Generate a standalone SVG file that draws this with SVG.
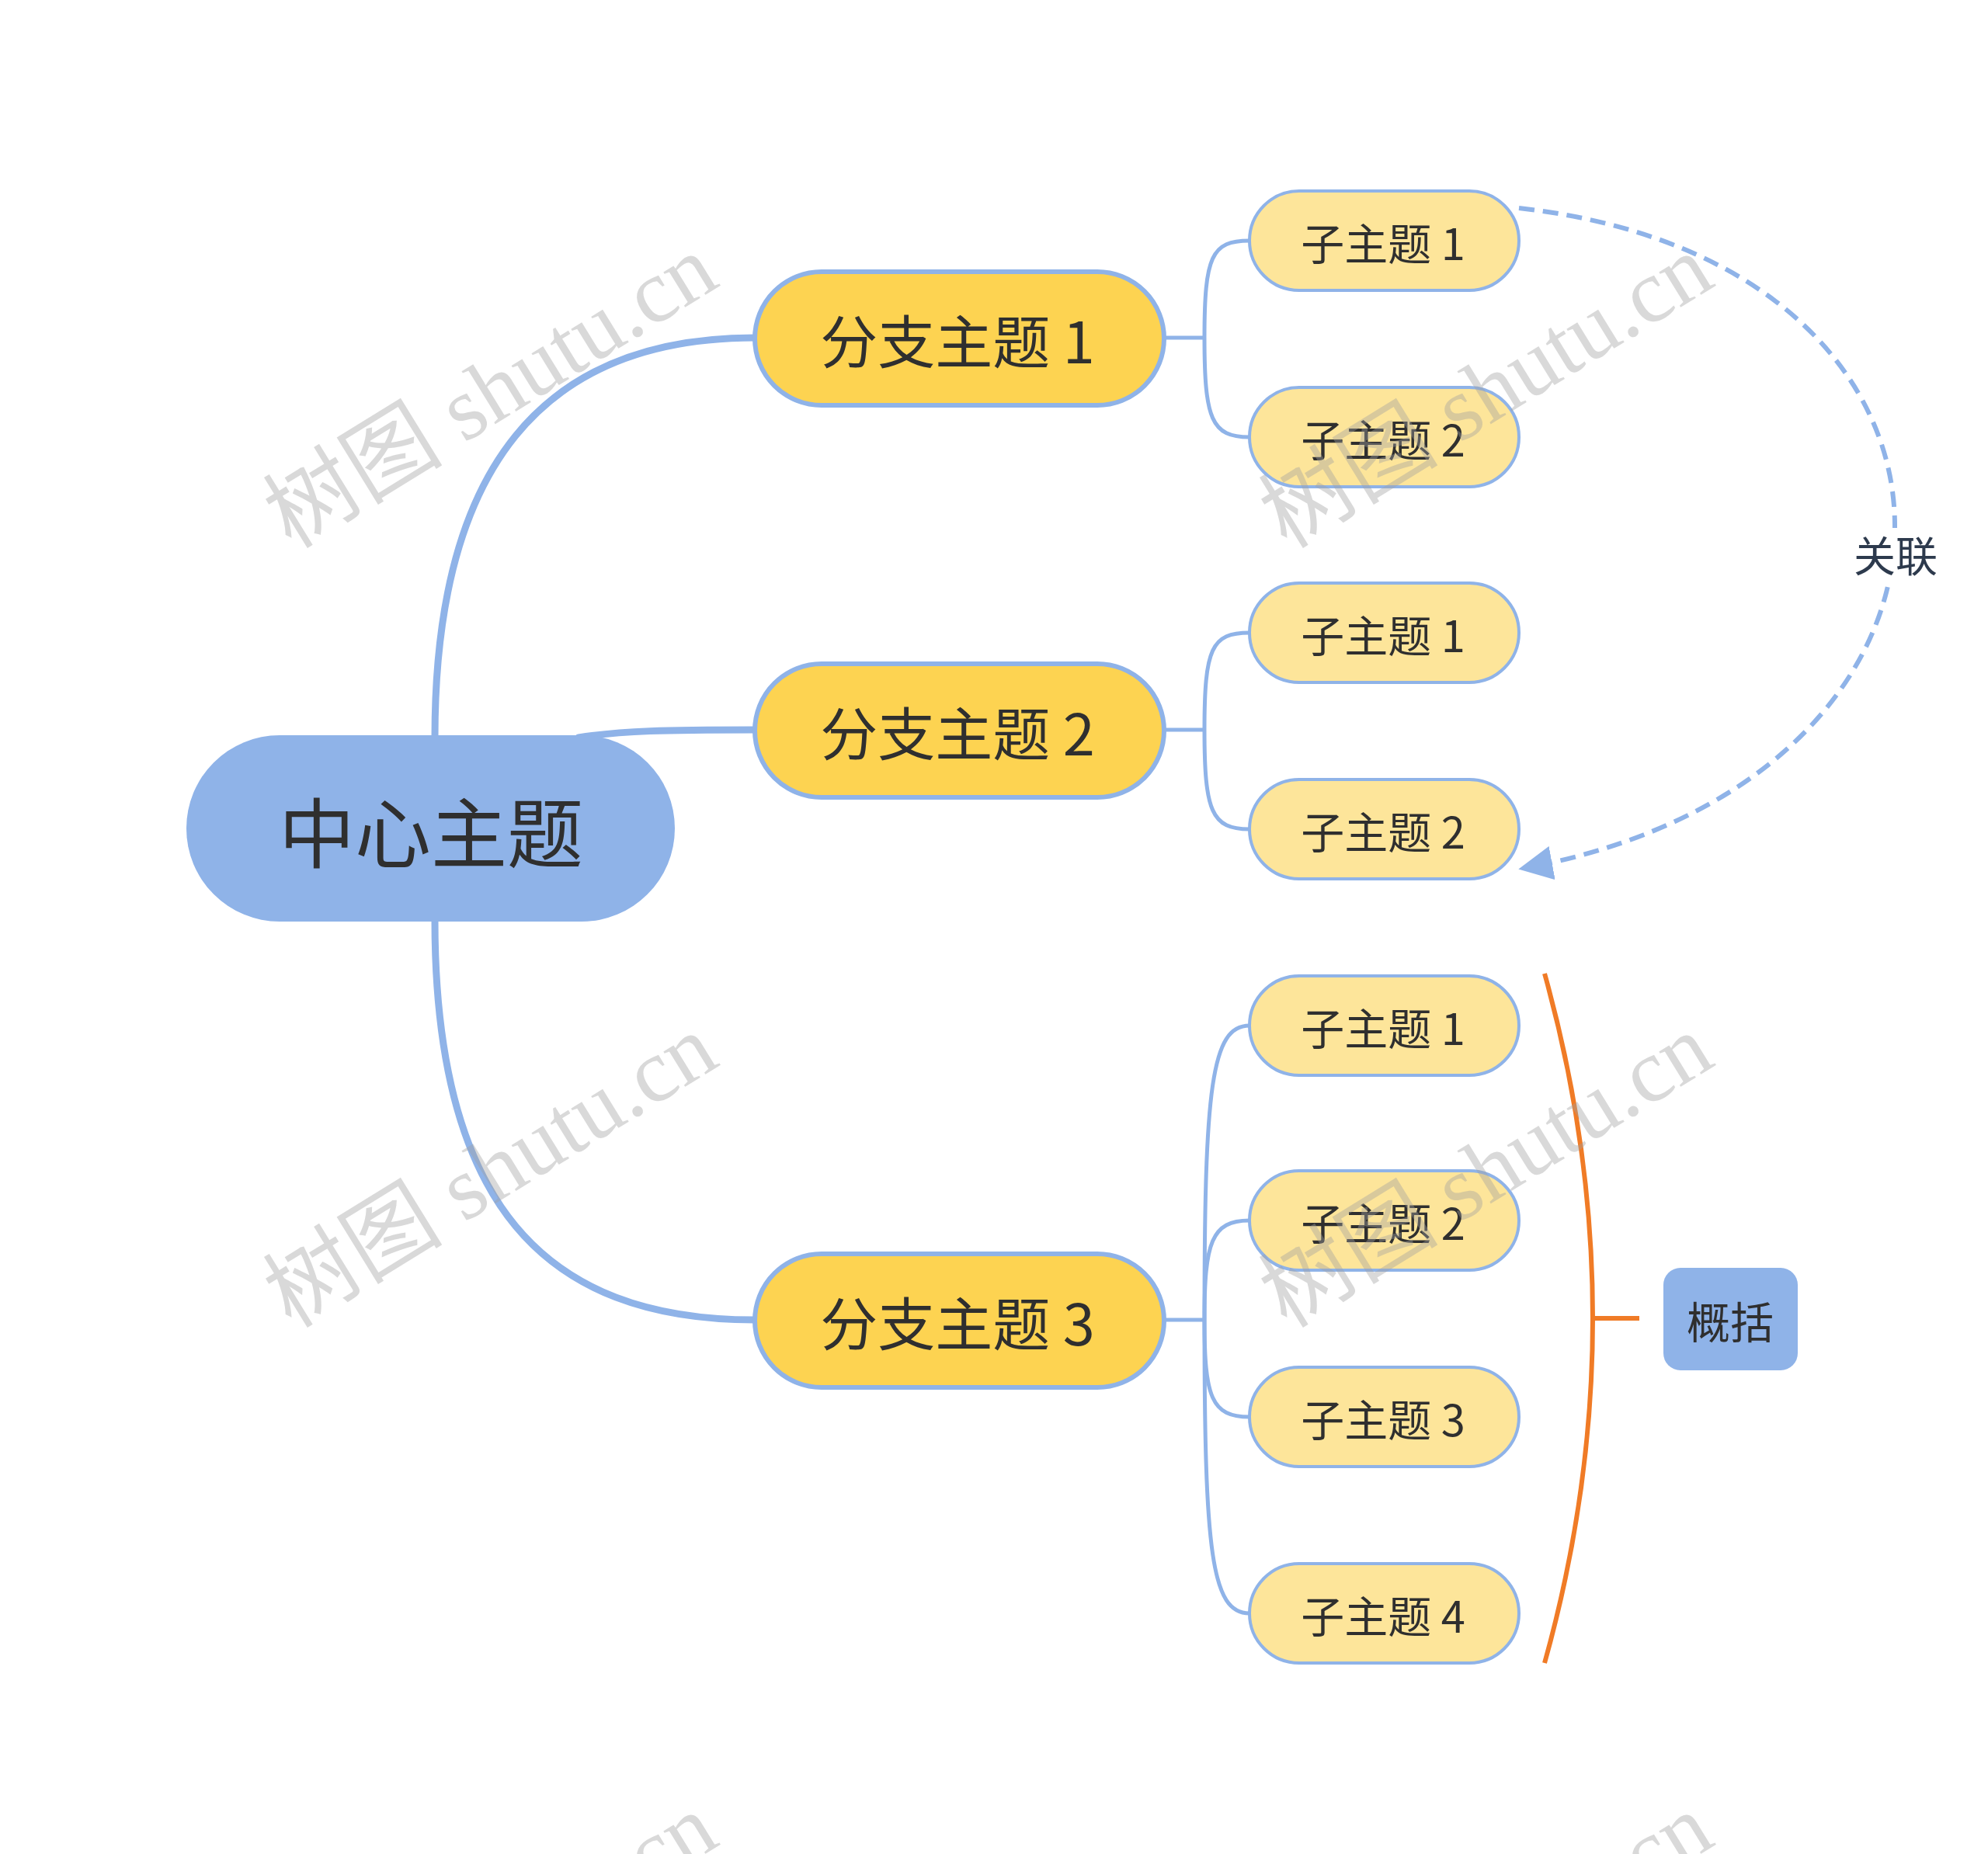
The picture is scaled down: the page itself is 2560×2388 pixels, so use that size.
<svg xmlns="http://www.w3.org/2000/svg" width="2560" height="2388" viewBox="0 0 2560 2388">
<style>
.t{font-family:"Noto Sans CJK SC","Noto Sans",sans-serif;fill:#2f2f2f;text-anchor:middle;dominant-baseline:central}
.center rect{fill:#8fb3e8}
.branch rect{fill:#fdd351;stroke:#8fb3e8;stroke-width:6}
.sub rect{fill:#fde59a;stroke:#8fb3e8;stroke-width:4}
.c1{fill:none;stroke:#8fb3e8;stroke-width:9;stroke-linecap:round}
.c2{fill:none;stroke:#8fb3e8;stroke-width:5}
.wm{font-family:"Liberation Serif","Noto Sans CJK SC",serif;font-size:116px;fill:#a0a0a0;fill-opacity:0.4}
</style>
<defs>
<marker id="arr" markerWidth="44" markerHeight="44" refX="8" refY="5" orient="auto" markerUnits="userSpaceOnUse" viewBox="0 0 10 10">
<path d="M0,0 L10,5 L0,10 z" fill="#8fb3e8"/>
</marker>
</defs>
<rect width="2560" height="2388" fill="#ffffff"/>
<g id="connectors">
<path class="c1" d="M560 950 C560 600 700 435 972 435"/>
<path class="c1" d="M745 950 C800 941 860 940 972 940"/>
<path class="c1" d="M560 1185 C560 1550 700 1700 972 1700"/>
<path class="c2" d="M1499 435 L1551 435"/>
<path class="c2" d="M1551 435 C1551 330 1560 310 1609 310"/>
<path class="c2" d="M1551 435 C1551 540 1560 563 1609 563"/>
<path class="c2" d="M1499 940 L1551 940"/>
<path class="c2" d="M1551 940 C1551 835 1560 815 1609 815"/>
<path class="c2" d="M1551 940 C1551 1045 1560 1068 1609 1068"/>
<path class="c2" d="M1499 1700 L1551 1700"/>
<path class="c2" d="M1551 1700 C1551 1400 1560 1321 1609 1321"/>
<path class="c2" d="M1551 1700 C1551 1600 1560 1572 1609 1572"/>
<path class="c2" d="M1551 1700 C1551 1800 1560 1825 1609 1825"/>
<path class="c2" d="M1551 1700 C1551 2000 1560 2078 1609 2078"/>
<path id="rel" d="M1956 268 C2600 340 2600 1000 1964 1118" fill="none" stroke="#8fb3e8" stroke-width="6" stroke-dasharray="20 11" marker-end="url(#arr)"/>
<rect x="2382" y="680" width="118" height="70" fill="#ffffff"/>
<text class="t" x="2441" y="713" font-size="54" style="fill:#2d3a4d">关联</text>
<path d="M1989 1254 Q2113 1698 1989 2142" fill="none" stroke="#f07b26" stroke-width="6"/>
<path d="M2051 1698 L2111 1698" fill="none" stroke="#f07b26" stroke-width="6"/>
</g>
<g id="center" class="center">
<rect x="240" y="947" width="629" height="240" rx="120"/>
<text class="t" x="555" y="1067" font-size="98">中心主题</text>
</g>
<g id="branch1" class="branch">
<rect x="972" y="350" width="527" height="172" rx="86"/>
<text class="t" x="1233" y="435" font-size="74">分支主题 1</text>
</g>
<g id="branch2" class="branch">
<rect x="972" y="855" width="527" height="172" rx="86"/>
<text class="t" x="1233" y="940" font-size="74">分支主题 2</text>
</g>
<g id="branch3" class="branch">
<rect x="972" y="1615" width="527" height="172" rx="86"/>
<text class="t" x="1233" y="1700" font-size="74">分支主题 3</text>
</g>
<g id="sub1a" class="sub"><rect x="1609" y="246" width="347" height="128" rx="64"/><text class="t" x="1781" y="310" font-size="56">子主题 1</text></g>
<g id="sub1b" class="sub"><rect x="1609" y="499" width="347" height="128" rx="64"/><text class="t" x="1781" y="563" font-size="56">子主题 2</text></g>
<g id="sub2a" class="sub"><rect x="1609" y="751" width="347" height="128" rx="64"/><text class="t" x="1781" y="815" font-size="56">子主题 1</text></g>
<g id="sub2b" class="sub"><rect x="1609" y="1004" width="347" height="128" rx="64"/><text class="t" x="1781" y="1068" font-size="56">子主题 2</text></g>
<g id="sub3a" class="sub"><rect x="1609" y="1257" width="347" height="128" rx="64"/><text class="t" x="1781" y="1321" font-size="56">子主题 1</text></g>
<g id="sub3b" class="sub"><rect x="1609" y="1508" width="347" height="128" rx="64"/><text class="t" x="1781" y="1572" font-size="56">子主题 2</text></g>
<g id="sub3c" class="sub"><rect x="1609" y="1761" width="347" height="128" rx="64"/><text class="t" x="1781" y="1825" font-size="56">子主题 3</text></g>
<g id="sub3d" class="sub"><rect x="1609" y="2014" width="347" height="128" rx="64"/><text class="t" x="1781" y="2078" font-size="56">子主题 4</text></g>
<g id="summary">
<rect x="2142" y="1633" width="173" height="132" rx="22" fill="#8fb3e8"/>
<text class="t" x="2228" y="1699" font-size="56">概括</text>
</g>
<g id="watermarks">
<text class="wm" transform="translate(375 708) rotate(-31.6)">树图 shutu.cn</text>
<text class="wm" transform="translate(1657 708) rotate(-31.6)">树图 shutu.cn</text>
<text class="wm" transform="translate(375 1712) rotate(-31.6)">树图 shutu.cn</text>
<text class="wm" transform="translate(1657 1712) rotate(-31.6)">树图 shutu.cn</text>
<text class="wm" transform="translate(375 2716) rotate(-31.6)">树图 shutu.cn</text>
<text class="wm" transform="translate(1657 2716) rotate(-31.6)">树图 shutu.cn</text>
</g>
</svg>
